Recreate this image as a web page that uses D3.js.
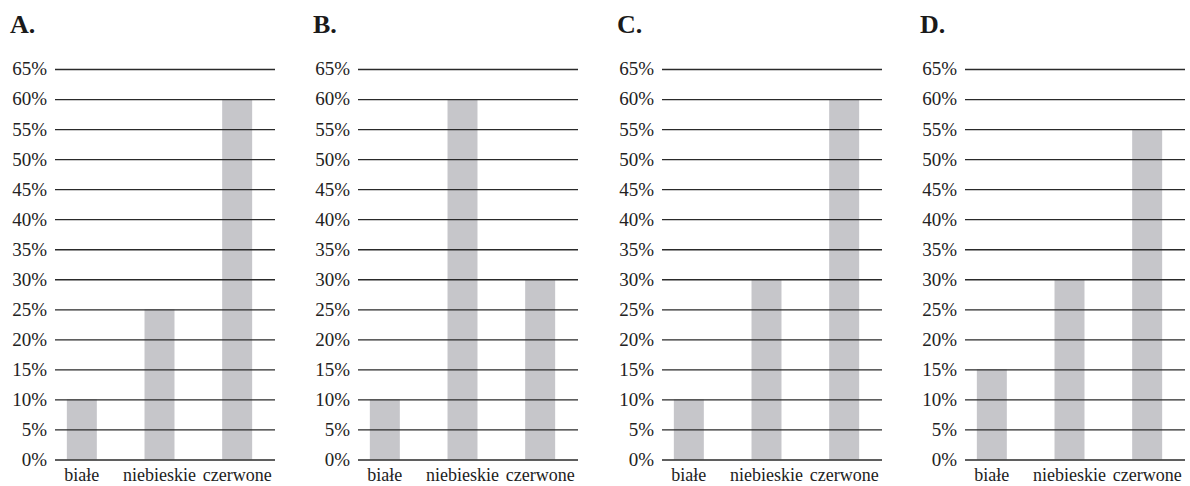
<!DOCTYPE html>
<html>
<head>
<meta charset="utf-8">
<script src="https://cdn.jsdelivr.net/npm/d3@7"></script>
<style>
  body { margin: 0; background: #fff; }
  svg { display: block; }
</style>
</head>
<body>
<script>
// data
const categories = ["białe", "niebieskie", "czerwone"];
const panelNames = ["A.", "B.", "C.", "D."];
const valuesA = [10, 25, 60];
const valuesB = [10, 60, 30];
const valuesC = [10, 30, 60];
const valuesD = [15, 30, 55];
const tickValues = [0, 5, 10, 15, 20, 25, 30, 35, 40, 45, 50, 55, 60, 65];

const panels = [valuesA, valuesB, valuesC, valuesD];

const w = 1190, h = 486;
const svg = d3.select("body").append("svg")
  .attr("width", w)
  .attr("height", h);

const font = "'Liberation Serif'";
const gridLeft = [55, 358, 662, 965];
const gridW = 220;

// shared y scale
const yScale = d3.scaleLinear()
  .domain([0, 65])
  .range([459.5, 69]);

panels.forEach((vals, p) => {
  const x0 = gridLeft[p];
  const g = svg.append("g");

  const xScale = d3.scaleBand()
    .domain(categories)
    .range([x0 - 12, x0 + 221])
    .paddingInner(0.614)
    .paddingOuter(0.307);

  // title
  g.append("text")
    .attr("x", x0 - 45)
    .attr("y", 33)
    .style("font-family", font)
    .style("font-size", "26px")
    .style("font-weight", "bold")
    .attr("fill", "#1a1a1a")
    .text(panelNames[p]);

  // bars
  g.selectAll("rect.bar")
    .data(vals)
    .enter()
    .append("rect")
    .attr("class", "bar")
    .attr("x", (d, i) => xScale(categories[i]))
    .attr("y", d => yScale(d))
    .attr("width", xScale.bandwidth())
    .attr("height", d => yScale(0) - yScale(d))
    .attr("fill", "#c6c6ca");

  // grid lines through an axis (labels drawn separately)
  const yAxis = d3.axisLeft(yScale)
    .tickValues(tickValues)
    .tickSize(-gridW)
    .tickFormat("");

  const ay = g.append("g")
    .attr("transform", "translate(" + x0 + ",0)")
    .call(yAxis);
  ay.select(".domain").remove();
  ay.selectAll("line")
    .attr("stroke", "#2a2a2a")
    .attr("stroke-width", 1.3);

  // y labels
  g.selectAll("text.ylab")
    .data(tickValues)
    .enter()
    .append("text")
    .attr("class", "ylab")
    .attr("x", x0 - 8)
    .attr("y", d => yScale(d))
    .attr("dy", "0.34em")
    .attr("text-anchor", "end")
    .style("font-family", font)
    .style("font-size", "19px")
    .attr("fill", "#222")
    .text(d => d + "%");

  // category labels
  g.selectAll("text.xlab")
    .data(categories)
    .enter()
    .append("text")
    .attr("class", "xlab")
    .attr("x", d => xScale(d) + xScale.bandwidth() / 2)
    .attr("y", 481)
    .attr("text-anchor", "middle")
    .style("font-family", font)
    .style("font-size", "18px")
    .attr("fill", "#222")
    .text(d => d);
});
</script>
</body>
</html>
